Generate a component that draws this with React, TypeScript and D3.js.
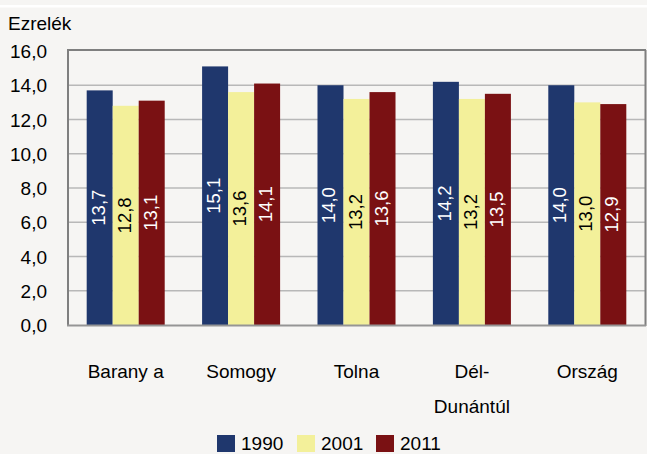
import React from "react";
import * as d3 from "d3";

const categories = ["Barany a", "Somogy", "Tolna", "Dél-\nDunántúl", "Ország"];
const seriesNames = ["1990", "2001", "2011"];
const values1990 = [13.7, 15.1, 14.0, 14.2, 14.0];
const values2001 = [12.8, 13.6, 13.2, 13.2, 13.0];
const values2011 = [13.1, 14.1, 13.6, 13.5, 12.9];
const yTicks = [0, 2, 4, 6, 8, 10, 12, 14, 16];
const colors = ["#1f376d", "#f3f09a", "#7a1113"];
const labelColors = ["#ffffff", "#000000", "#ffffff"];

const W = 647, H = 454;
const plot = { left: 68, right: 645, top: 51, bottom: 325 };
const FONT = "'Liberation Sans', Arial, sans-serif";

export default function App() {
  const series = [values1990, values2001, values2011];
  const x0 = d3.scaleBand<string>().domain(categories).range([plot.left, plot.right]).paddingInner(0.324).paddingOuter(0.162);
  const x1 = d3.scaleBand<string>().domain(seriesNames).range([0, x0.bandwidth()]).padding(0);
  const y = d3.scaleLinear().domain([0, 16]).range([plot.bottom, plot.top]);
  const fmt = (v: number) => d3.format(".1f")(v).replace(".", ",");

  return (
    <div style={{ position: "fixed", left: 0, top: 0 }}>
      <svg width={W} height={H} style={{ display: "block", fontFamily: FONT }}>
        <rect x={0} y={0} width={W} height={H} fill="#f6f5f3" />
        <rect x={0} y={5} width={W} height={2.5} fill="#ffffff" />
        {/* gridlines */}
        {yTicks.filter(t => t > 0 && t < 16).map(t => (
          <line key={t} x1={plot.left} x2={plot.right} y1={y(t)} y2={y(t)} stroke="#b8b8b8" strokeWidth={1.5} />
        ))}
        {/* bars */}
        {categories.map((c, i) => (
          <g key={c} transform={`translate(${x0(c)},0)`}>
            {series.map((s, j) => {
              const bx = x1(seriesNames[j])!;
              const bw = x1.bandwidth();
              const top = y(s[i]);
              const cy = (top + plot.bottom) / 2;
              const cx = bx + bw / 2;
              return (
                <g key={j}>
                  <rect x={bx} y={top} width={bw} height={plot.bottom - top} fill={colors[j]} />
                  <text transform={`translate(${cx + 5},${cy}) rotate(-90)`} textAnchor="middle" fontSize={18.5} fill={labelColors[j]}>
                    {fmt(s[i])}
                  </text>
                </g>
              );
            })}
          </g>
        ))}
        {/* plot border */}
        <line x1={plot.left} x2={plot.left} y1={plot.top - 1} y2={plot.bottom + 1} stroke="#7f7f7f" strokeWidth={2} />
        <line x1={plot.left - 1} x2={plot.right + 1} y1={plot.top - 1} y2={plot.top - 1} stroke="#7f7f7f" strokeWidth={2} />
        <line x1={plot.right + 0.5} x2={plot.right + 0.5} y1={plot.top - 1} y2={plot.bottom + 1} stroke="#7f7f7f" strokeWidth={2} />
        <line x1={plot.left - 1} x2={plot.right + 1} y1={plot.bottom + 0.5} y2={plot.bottom + 0.5} stroke="#959595" strokeWidth={2} />
        {/* y tick labels */}
        {yTicks.map(t => (
          <text key={t} x={47} y={y(t) + 7} textAnchor="end" fontSize={19} fill="#000">{fmt(t)}</text>
        ))}
        <text x={8} y={30} fontSize={19} fill="#000">Ezrelék</text>
        {/* category labels */}
        {categories.map(c => (
          <text key={c} textAnchor="middle" fontSize={19} fill="#000">
            {c.split("\n").map((line, k) => (
              <tspan key={k} x={x0(c)! + x0.bandwidth() / 2} y={377.5 + k * 35}>{line}</tspan>
            ))}
          </text>
        ))}
        {/* legend */}
        {seriesNames.map((n, j) => {
          const lx = [217, 297, 376][j];
          return (
            <g key={n}>
              <rect x={lx} y={435} width={18} height={17} fill={colors[j]} />
              <text x={lx + 24} y={450} fontSize={19} fill="#000">{n}</text>
            </g>
          );
        })}
      </svg>
    </div>
  );
}
